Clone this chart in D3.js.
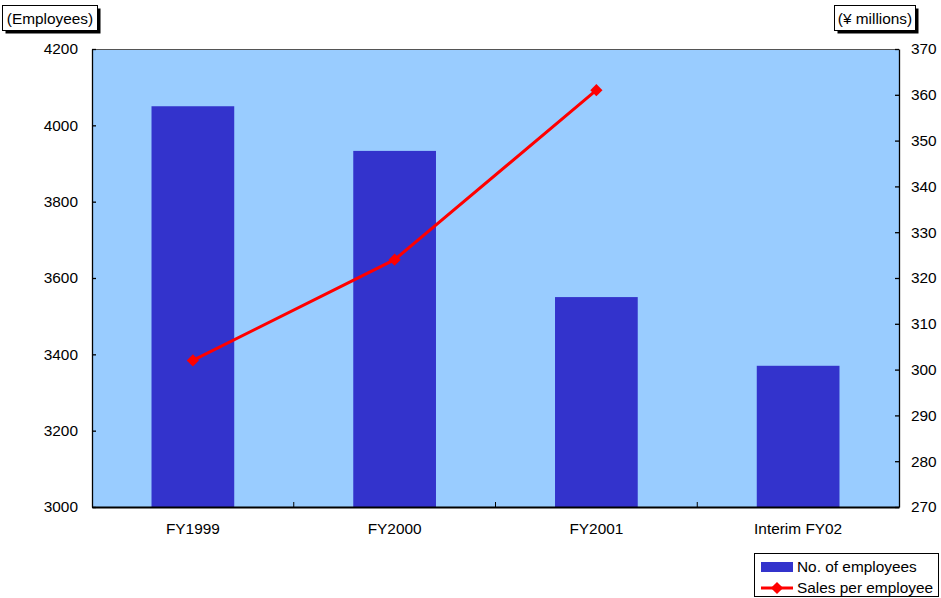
<!DOCTYPE html>
<html><head><meta charset="utf-8">
<script src="https://cdn.jsdelivr.net/npm/d3@7"></script>
<style>body{margin:0;background:#fff;} text{font-family:"Liberation Sans",Arial,sans-serif;}</style>
</head><body>
<svg id="c" width="941" height="598"></svg>
<script>
const categories = ["FY1999", "FY2000", "FY2001", "Interim FY02"];
const employees = [4050, 3933, 3550, 3370];
const salesPerEmployee = [302, 324, 361];
const leftTicks = [3000, 3200, 3400, 3600, 3800, 4000, 4200];
const rightTicks = [270, 280, 290, 300, 310, 320, 330, 340, 350, 360, 370];
const seriesNames = ["No. of employees", "Sales per employee"];
const leftUnit = "(Employees)";
const rightUnit = "(¥ millions)";

const svg = d3.select("#c");
const L = 92, R = 899, T = 49, B = 507;
const xc = d3.scaleBand().domain(categories).range([L, R]);
const yL = d3.scaleLinear().domain([3000, 4200]).range([B, T]);
const yR = d3.scaleLinear().domain([270, 370]).range([B, T]);

svg.append("rect").attr("x", L).attr("y", T).attr("width", R - L).attr("height", B - T)
  .attr("fill", "#99CCFF");
svg.append("line").attr("x1", L).attr("x2", R).attr("y1", T + 0.5).attr("y2", T + 0.5).attr("stroke", "#555").attr("stroke-width", 1);

// bars
const bw = xc.bandwidth() * 0.41;
svg.selectAll("rect.bar").data(employees).enter().append("rect").attr("class", "bar")
  .attr("x", (d, i) => xc(categories[i]) + xc.bandwidth() / 2 - bw / 2)
  .attr("width", bw)
  .attr("y", d => yL(d)).attr("height", d => B - yL(d))
  .attr("fill", "#3333CC");

// axes
const fs = "15.4px";
const gl = svg.append("g").attr("transform", `translate(${L},0)`)
  .call(d3.axisLeft(yL).tickValues(leftTicks).tickFormat(d3.format("d")).tickSizeInner(-4).tickSizeOuter(0).tickPadding(14));
const gr = svg.append("g").attr("transform", `translate(${R},0)`)
  .call(d3.axisRight(yR).tickValues(rightTicks).tickFormat(d3.format("d")).tickSizeInner(-4).tickSizeOuter(0).tickPadding(12));
const gb = svg.append("g").attr("transform", `translate(0,${B})`)
  .call(d3.axisBottom(xc).tickSize(0).tickPadding(16));
[gl, gr, gb].forEach(g => {
  g.selectAll("text").attr("font-size", fs).attr("fill", "#000").attr("font-family", "Liberation Sans, Arial, sans-serif");
  g.selectAll("path.domain, line").attr("stroke", "#000").attr("stroke-width", 1.3);
});
// category boundary ticks pointing up
svg.selectAll("line.ct").data(categories.slice(1)).enter().append("line").attr("class", "ct")
  .attr("x1", d => xc(d)).attr("x2", d => xc(d)).attr("y1", B).attr("y2", B - 5)
  .attr("stroke", "#000").attr("stroke-width", 1);
gb.select("path.domain").attr("stroke-width", 2);

// line
const pts = salesPerEmployee.map((v, i) => [xc(categories[i]) + xc.bandwidth() / 2, yR(v)]);
svg.append("path").attr("d", d3.line()(pts)).attr("fill", "none").attr("stroke", "#FF0000").attr("stroke-width", 3);
const diamond = d3.symbol().type(d3.symbolDiamond2).size(95);
svg.selectAll("path.mk").data(pts).enter().append("path").attr("class", "mk")
  .attr("d", diamond).attr("transform", d => `translate(${d[0]},${d[1]})`).attr("fill", "#FF0000");

// unit labels with shadow
function unitBox(x0, y0, w, h, txt) {
  svg.append("rect").attr("x", x0 + 3).attr("y", y0 + 3).attr("width", w).attr("height", h).attr("fill", "#000");
  svg.append("rect").attr("x", x0).attr("y", y0).attr("width", w).attr("height", h).attr("fill", "#fff").attr("stroke", "#000").attr("stroke-width", 1);
  svg.append("text").attr("x", x0 + w / 2).attr("y", y0 + h / 2 + 5.5).attr("text-anchor", "middle").attr("font-size", fs).text(txt);
}
unitBox(2.5, 5.5, 95, 25, leftUnit);
unitBox(834.5, 5.5, 81, 25, rightUnit);

// legend
const lg = svg.append("g");
lg.append("rect").attr("x", 754.5).attr("y", 553.5).attr("width", 184).attr("height", 43).attr("fill", "#fff").attr("stroke", "#000").attr("stroke-width", 1);
lg.append("rect").attr("x", 761).attr("y", 562).attr("width", 32).attr("height", 10).attr("fill", "#3333CC");
lg.append("text").attr("x", 797).attr("y", 572).attr("font-size", fs).text(seriesNames[0]);
lg.append("line").attr("x1", 761).attr("x2", 793).attr("y1", 588).attr("y2", 588).attr("stroke", "#FF0000").attr("stroke-width", 3);
lg.append("path").attr("d", diamond).attr("transform", "translate(777,588)").attr("fill", "#FF0000");
lg.append("text").attr("x", 797).attr("y", 593).attr("font-size", fs).text(seriesNames[1]);
</script>
</body></html>
